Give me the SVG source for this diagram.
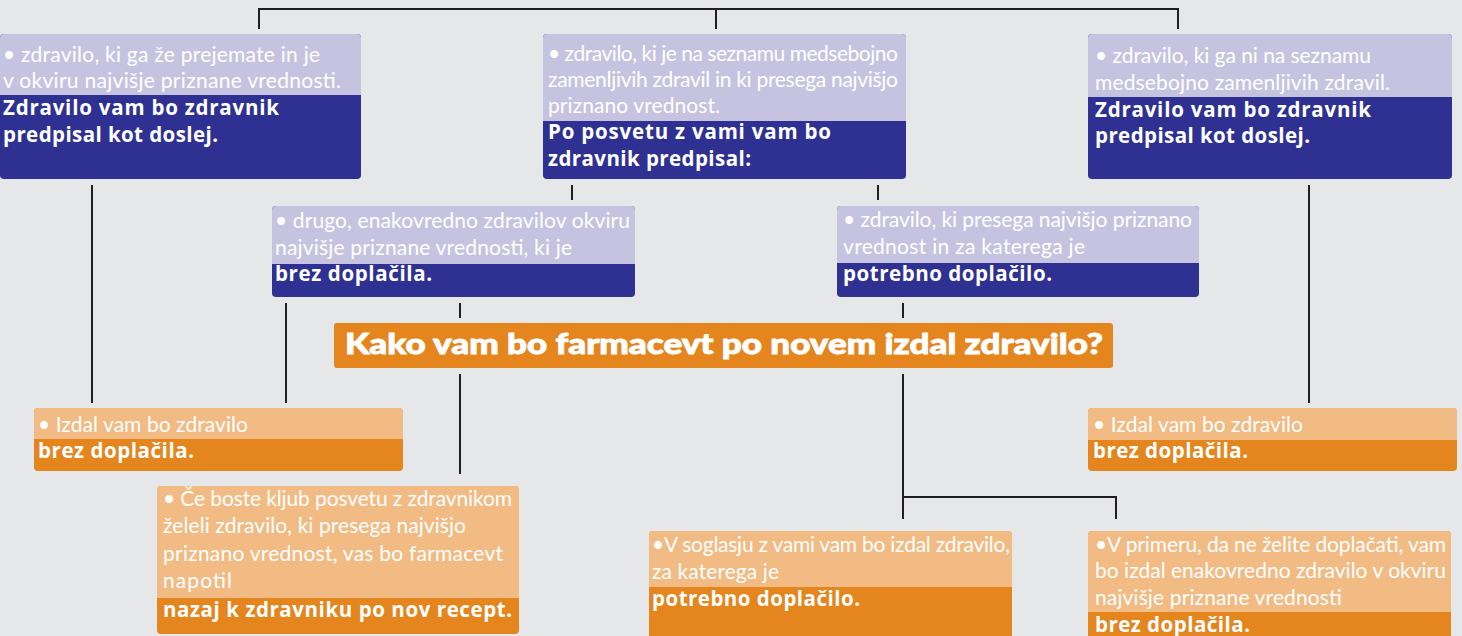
<svg xmlns="http://www.w3.org/2000/svg" width="1462" height="636" viewBox="0 0 1462 636">
<style>
.bg{fill:#e6e7e9}
.dk{fill:#2e3192}
.lt{fill:#c6c3e1}
.od{fill:#e4851e}
.ol{fill:#f2bb83}
.t{font-family:Lato,"Liberation Sans",sans-serif;font-size:21px;fill:#ffffff}
.b{font-family:"Open Sans","Liberation Sans",sans-serif;font-size:20.5px;font-weight:bold;fill:#ffffff}
.ttl{font-family:Lato,"Liberation Sans",sans-serif;font-size:29px;font-weight:900;fill:#ffffff;stroke:#ffffff;stroke-width:0.9}
.ln{fill:none;stroke:#231f20;stroke-width:2}
</style>
<rect class="bg" x="0" y="0" width="1462" height="636"/>
<g id="connectors">
<path class="ln" d="M259,29 V9 H1178 V29 M716,9 V29"/>
<path class="ln" d="M92,185 V403 M1309,185 V403"/>
<path class="ln" d="M572,185 V200 M878,185 V200"/>
<path class="ln" d="M286,303 V403 M460,303 V318 M460,374 V474"/>
<path class="ln" d="M903,303 V318 M903,374 V519 M903,497 H1116 V519"/>
</g>
<g id="n-top-left">
<rect class="dk" x="0" y="34" width="361" height="145" rx="4"/>
<path class="lt" d="M0,95 V38 Q0,34 4,34 H357 Q361,34 361,38 V95 Z"/>
<text class="t" x="3" y="62" textLength="317">• zdravilo, ki ga že prejemate in je</text>
<text class="t" x="3" y="88" textLength="338">v okviru najvišje priznane vrednosti.</text>
<text class="b" x="3" y="115" textLength="276">Zdravilo vam bo zdravnik</text>
<text class="b" x="3" y="142" textLength="215">predpisal kot doslej.</text>
</g>
<g id="n-top-mid">
<rect class="dk" x="543" y="34" width="363" height="145" rx="4"/>
<path class="lt" d="M543,121 V38 Q543,34 547,34 H902 Q906,34 906,38 V121 Z"/>
<text class="t" x="548" y="61" textLength="350">• zdravilo, ki je na seznamu medsebojno</text>
<text class="t" x="548" y="87" textLength="350">zamenljivih zdravil in ki presega najvišjo</text>
<text class="t" x="548" y="113" textLength="172">priznano vrednost.</text>
<text class="b" x="548" y="139" textLength="283">Po posvetu z vami vam bo</text>
<text class="b" x="548" y="166" textLength="203">zdravnik predpisal:</text>
</g>
<g id="n-top-right">
<rect class="dk" x="1088" y="34" width="364" height="145" rx="4"/>
<path class="lt" d="M1088,97 V38 Q1088,34 1092,34 H1448 Q1452,34 1452,38 V97 Z"/>
<text class="t" x="1095" y="63" textLength="276">• zdravilo, ki ga ni na seznamu</text>
<text class="t" x="1095" y="90" textLength="295">medsebojno zamenljivih zdravil.</text>
<text class="b" x="1095" y="117" textLength="276">Zdravilo vam bo zdravnik</text>
<text class="b" x="1095" y="143" textLength="215">predpisal kot doslej.</text>
</g>
<g id="n-mid-left">
<rect class="dk" x="272" y="206" width="363" height="91" rx="4"/>
<path class="lt" d="M272,264 V210 Q272,206 276,206 H631 Q635,206 635,210 V264 Z"/>
<text class="t" x="275" y="228" textLength="355">• drugo, enakovredno zdravilov okviru</text>
<text class="t" x="275" y="255" textLength="297">najvišje priznane vrednosti, ki je</text>
<text class="b" x="275" y="281" textLength="157">brez doplačila.</text>
</g>
<g id="n-mid-right">
<rect class="dk" x="837" y="206" width="362" height="91" rx="4"/>
<path class="lt" d="M837,263 V210 Q837,206 841,206 H1195 Q1199,206 1199,210 V263 Z"/>
<text class="t" x="843" y="227" textLength="349">• zdravilo, ki presega najvišjo priznano</text>
<text class="t" x="843" y="254" textLength="242">vrednost in za katerega je</text>
<text class="b" x="843" y="281" textLength="209">potrebno doplačilo.</text>
</g>
<g id="n-title">
<rect class="od" x="334" y="323" width="779" height="45" rx="3"/>
<text class="ttl" x="345" y="354" textLength="758" lengthAdjust="spacingAndGlyphs">Kako vam bo farmacevt po novem izdal zdravilo?</text>
</g>
<g id="n-bot-left">
<rect class="od" x="34" y="408" width="369" height="63" rx="4"/>
<path class="ol" d="M34,439 V412 Q34,408 38,408 H399 Q403,408 403,412 V439 Z"/>
<text class="t" x="38" y="432" textLength="210">• Izdal vam bo zdravilo</text>
<text class="b" x="38" y="458" textLength="156">brez doplačila.</text>
</g>
<g id="n-bot-right">
<rect class="od" x="1088" y="408" width="369" height="63" rx="4"/>
<path class="ol" d="M1088,440 V412 Q1088,408 1092,408 H1453 Q1457,408 1457,412 V440 Z"/>
<text class="t" x="1093" y="432" textLength="210">• Izdal vam bo zdravilo</text>
<text class="b" x="1093" y="458" textLength="155">brez doplačila.</text>
</g>
<g id="n-ce-boste">
<rect class="od" x="157" y="486" width="362" height="148" rx="4"/>
<path class="ol" d="M157,598 V490 Q157,486 161,486 H515 Q519,486 519,490 V598 Z"/>
<text class="t" x="163" y="506" textLength="349">• Če boste kljub posvetu z zdravnikom</text>
<text class="t" x="163" y="533" textLength="303">želeli zdravilo, ki presega najvišjo</text>
<text class="t" x="163" y="561" textLength="340">priznano vrednost, vas bo farmacevt</text>
<text class="t" x="163" y="588" textLength="69">napotil</text>
<text class="b" x="163" y="617" textLength="349">nazaj k zdravniku po nov recept.</text>
</g>
<g id="n-soglasju">
<rect class="od" x="649" y="531" width="363" height="115" rx="4"/>
<path class="ol" d="M649,587 V535 Q649,531 653,531 H1008 Q1012,531 1012,535 V587 Z"/>
<text class="t" x="652" y="552" textLength="358">•V soglasju z vami vam bo izdal zdravilo,</text>
<text class="t" x="652" y="579" textLength="127">za katerega je</text>
<text class="b" x="652" y="606" textLength="208">potrebno doplačilo.</text>
</g>
<g id="n-primeru">
<rect class="od" x="1088" y="531" width="363" height="115" rx="4"/>
<path class="ol" d="M1088,612 V535 Q1088,531 1092,531 H1447 Q1451,531 1451,535 V612 Z"/>
<text class="t" x="1095" y="552" textLength="351">•V primeru, da ne želite doplačati, vam</text>
<text class="t" x="1095" y="578" textLength="351">bo izdal enakovredno zdravilo v okviru</text>
<text class="t" x="1095" y="605" textLength="247">najvišje priznane vrednosti</text>
<text class="b" x="1095" y="632" textLength="155">brez doplačila.</text>
</g>
</svg>
